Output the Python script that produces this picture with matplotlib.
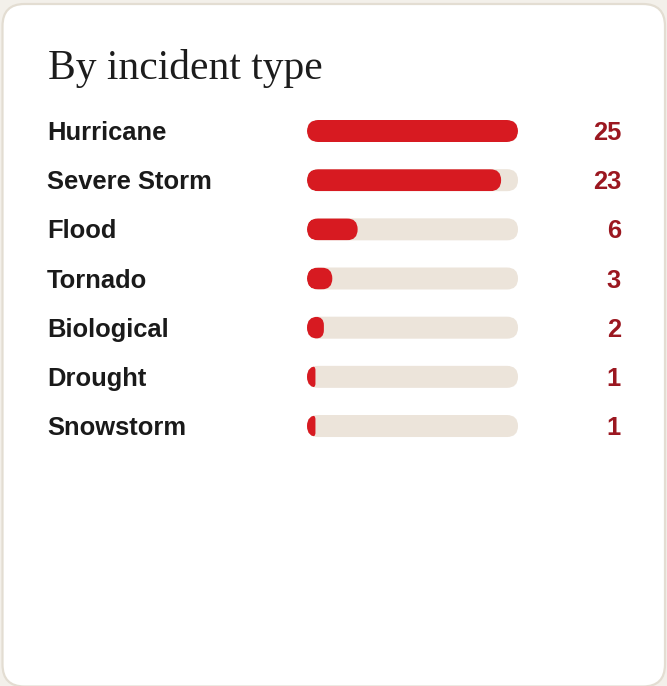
import matplotlib
matplotlib.use("Agg")
import matplotlib.pyplot as plt
from matplotlib.patches import FancyBboxPatch

categories = ["Hurricane", "Severe Storm", "Flood", "Tornado", "Biological", "Drought", "Snowstorm"]
values = [25, 23, 6, 3, 2, 1, 1]
max_value = 25
title = "By incident type"

W, H = 667, 686
DPI = 100
fig = plt.figure(figsize=(W / DPI, H / DPI), dpi=DPI)
fig.patch.set_facecolor("#f3f0ea")

def px2pt(px):
    return px * 72 / DPI

# background card (pixel coordinates)
bg = fig.add_axes([0, 0, 1, 1])
bg.set_xlim(0, W)
bg.set_ylim(H, 0)
bg.axis("off")
card = FancyBboxPatch((2.5, 4), 662.5, 682.5, boxstyle="round,pad=0,rounding_size=22",
                      facecolor="white", edgecolor="#e3ddd2", linewidth=1.6)
bg.add_patch(card)

bg.text(48, 79.5, title, fontsize=px2pt(41.5), family="Liberation Serif", color="#1c1c1c",
        va="baseline", ha="left")

# bars axes
n = len(categories)
row_px = 49.17
first_center = 131
top_px = first_center - row_px / 2
bot_px = top_px + n * row_px
left_px, right_px = 307, 518
ax = fig.add_axes([left_px / W, 1 - bot_px / H, (right_px - left_px) / W, (bot_px - top_px) / H])
ax.set_xlim(0, max_value)
ax.set_ylim(n - 0.5, -0.5)
ax.axis("off")
ax.patch.set_alpha(0)

xu = max_value / (right_px - left_px)   # x units per px
yu = 1.0 / row_px                       # y units per px
aspect = yu / xu
bar_h_px = 22
bh = bar_h_px * yu

for i, (cat, v) in enumerate(zip(categories, values)):
    track = FancyBboxPatch((0, i - bh / 2), max_value, bh,
                           boxstyle=f"round,pad=0,rounding_size={bar_h_px / 2 * xu}",
                           mutation_aspect=aspect, facecolor="#ece4da", edgecolor="none")
    ax.add_patch(track)
    wpx = v / xu
    r = min(bar_h_px / 2, wpx / 2) * xu
    fill = FancyBboxPatch((0, i - bh / 2), v, bh,
                          boxstyle=f"round,pad=0,rounding_size={r}",
                          mutation_aspect=aspect, facecolor="#d71a21", edgecolor="none")
    ax.add_patch(fill)
    fill.set_clip_path(track)
    yc = first_center + i * row_px
    bg.text(47, yc + 9, cat, fontsize=px2pt(25.5), family="Liberation Sans", weight="bold",
            color="#1a1a1a", va="baseline", ha="left")
    bg.text(621, yc + 9, str(v), fontsize=px2pt(25.5), family="Liberation Sans", weight="bold",
            color="#9b1720", va="baseline", ha="right")

fig.savefig("out.png", dpi=DPI, facecolor=fig.get_facecolor())
